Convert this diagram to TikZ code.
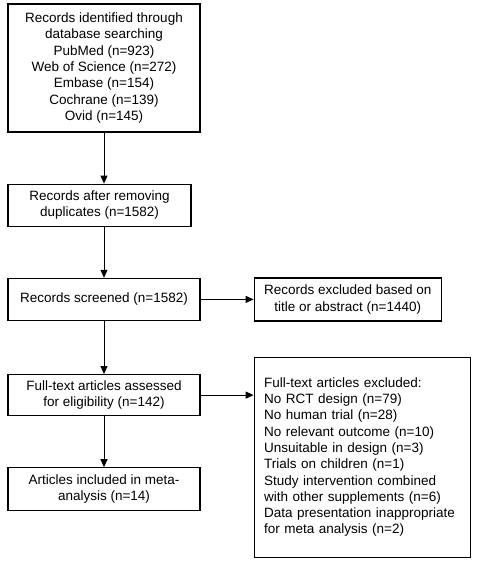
\documentclass[tikz,border=0pt]{standalone}
\usepackage{fontspec}
\setmainfont{Liberation Sans}
\usetikzlibrary{positioning,arrows.meta}

\tikzset{
  box/.style={draw, line width=1.2pt, fill=white, align=center, inner sep=0pt,
    minimum width=192pt, minimum height=42pt,
    font=\fontsize{13.5pt}{16.3pt}\selectfont},
  flow/.style={-{Triangle[length=8pt,width=7pt]}, line width=1pt}
}

\begin{document}
\begin{tikzpicture}[x=1pt,y=1pt,node distance=51pt]
  \useasboundingbox[fill=white] (0,0) rectangle (478,-561);

  \node[box, minimum height=128pt] (ident) at (104,-68)
    {Records identified through\\ database searching\\ PubMed (n=923)\\
     Web of Science (n=272)\\ Embase (n=154)\\ Cochrane (n=139)\\ Ovid (n=145)};
  \node[box, minimum width=183pt] (dedup) [below=of ident, xshift=-4.5pt]
    {Records after removing\\ duplicates (n=1582)};
  \node[box] (screen) [below=of dedup, xshift=4.5pt] {Records screened (n=1582)};
  \node[box, minimum height=41pt] (full) [below=53pt of screen]
    {Full-text articles assessed\\ for eligibility (n=142)};
  \node[box, minimum height=43pt] (incl) [below=of full]
    {Articles included in meta-\\ analysis (n=14)};

  \node[box, minimum width=187pt, minimum height=43pt] (excl) [right=53pt of screen]
    {Records excluded based on\\ title or abstract (n=1440)};
  \node[box, align=left, text width=196pt, inner xsep=10pt, minimum height=200pt]
    (fullexcl) [below=35pt of excl.south west, anchor=north west]
    {Full-text articles excluded:\\ No RCT design (n=79)\\ No human trial (n=28)\\
     No relevant outcome (n=10)\\ Unsuitable in design (n=3)\\ Trials on children (n=1)\\
     Study intervention combined\\ with other supplements (n=6)\\
     Data presentation inappropriate\\ for meta analysis (n=2)};

  \draw[flow] (ident) -- (ident.south |- dedup.north);
  \draw[flow] (ident.south |- dedup.south) -- (ident.south |- screen.north);
  \draw[flow] (screen) -- (full);
  \draw[flow] (full) -- (incl);
  \draw[flow] (screen) -- (excl);
  \draw[flow] (full) -- (full.east -| fullexcl.west);
\end{tikzpicture}
\end{document}
